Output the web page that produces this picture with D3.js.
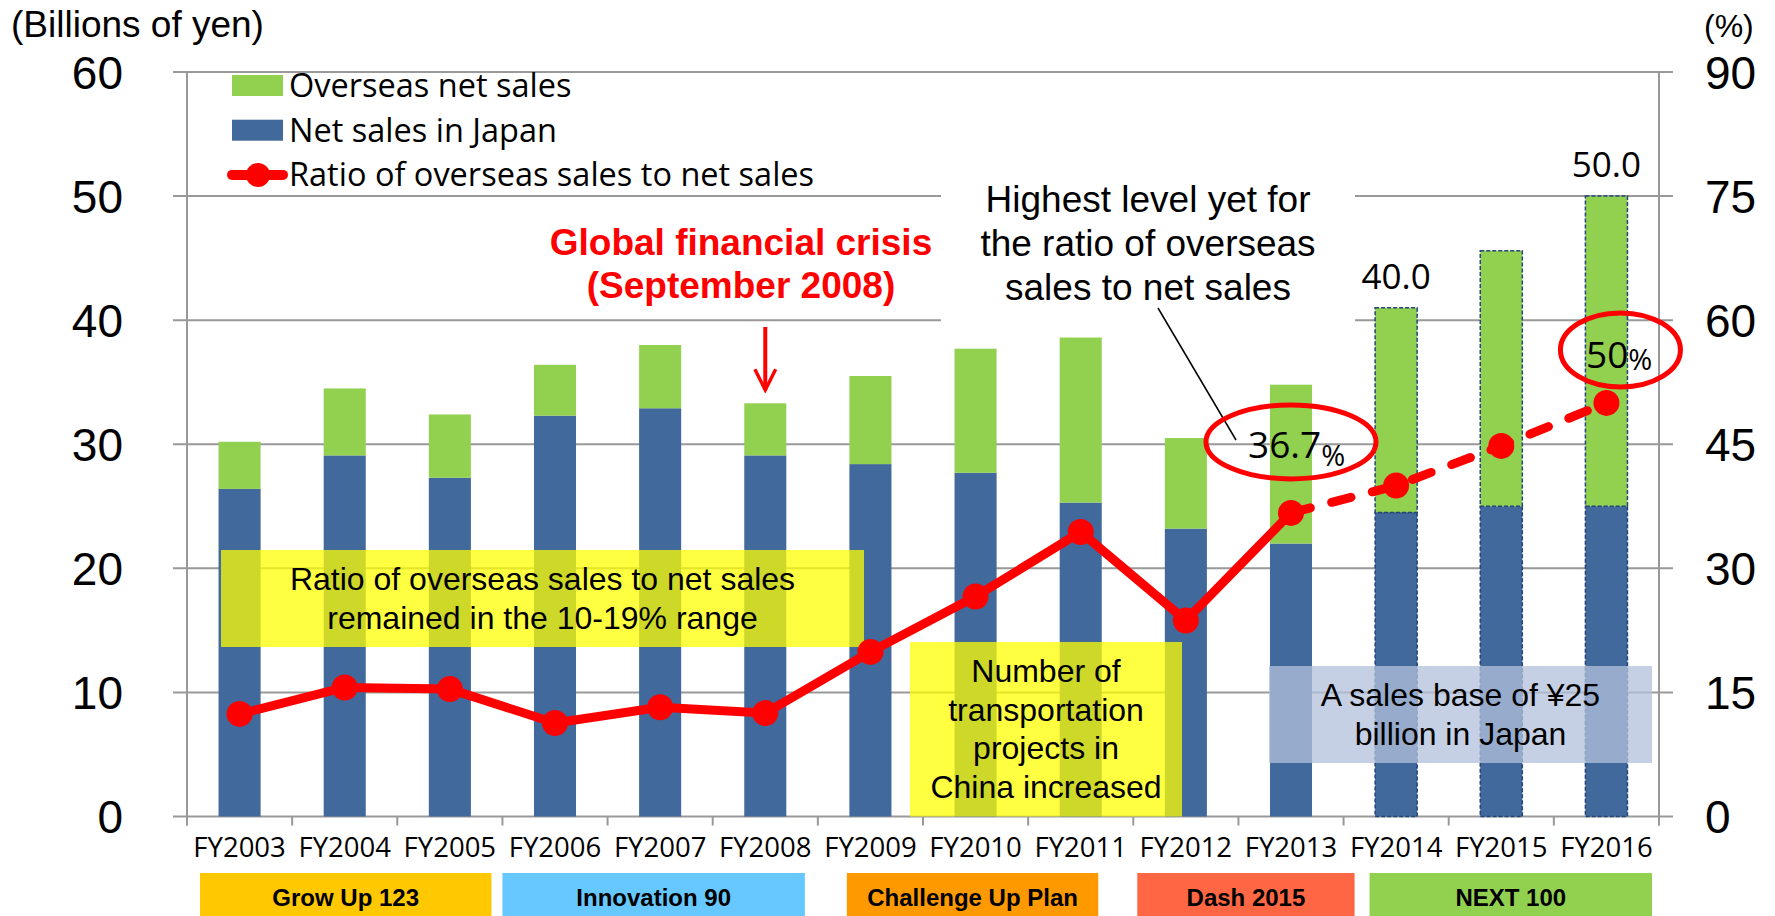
<!DOCTYPE html>
<html>
<head>
<meta charset="utf-8">
<script src="https://cdn.jsdelivr.net/npm/d3@7"></script>
<style>
  body { margin: 0; background: #fff; }
  svg { display: block; }
</style>
</head>
<body>
<div id="chart"></div>
<script>
// -------------------- DATA --------------------
const YEARS = ["FY2003", "FY2004", "FY2005", "FY2006", "FY2007", "FY2008", "FY2009",
               "FY2010", "FY2011", "FY2012", "FY2013", "FY2014", "FY2015", "FY2016"];
// billions of yen
const JAPAN_SALES    = [26.4, 29.1, 27.3, 32.3, 32.9, 29.1, 28.4, 27.7, 25.3, 23.2, 22.0, 24.5, 25.0, 25.0];
const OVERSEAS_SALES = [ 3.8,  5.4,  5.1,  4.1,  5.1,  4.2,  7.1, 10.0, 13.3,  7.3, 12.8, 16.5, 20.6, 25.0];
// percent
const OVERSEAS_RATIO = [12.4, 15.6, 15.4, 11.3, 13.2, 12.5, 19.9, 26.6, 34.4, 23.7, 36.7, 40.0, 44.8, 50.0];
const PLAN_YEARS = ["FY2014", "FY2015", "FY2016"];   // targets, dashed
const LAST_ACTUAL = "FY2013";
const BAR_LABEL_YEARS = ["FY2014", "FY2016"];
const BAR_LABEL_TEXTS = ["40.0", "50.0"];

const PLAN_NAMES  = ["Grow Up 123", "Innovation 90", "Challenge Up Plan", "Dash 2015", "NEXT 100"];
const PLAN_FIRST  = ["FY2003", "FY2006", "FY2009", "FY2012", "FY2014"];
const PLAN_LAST   = ["FY2005", "FY2008", "FY2011", "FY2013", "FY2016"];
const PLAN_COLORS = ["#ffc800", "#66c8ff", "#ff9900", "#ff6644", "#92d050"];

const LEFT_TICKS  = [0, 10, 20, 30, 40, 50, 60];
const RIGHT_TICKS = [0, 15, 30, 45, 60, 75, 90];

const LEGEND_LABELS = ["Overseas net sales", "Net sales in Japan", "Ratio of overseas sales to net sales"];

// -------------------- SETUP --------------------
const W = 1775, H = 916;
const plot = { left: 187, right: 1659, top: 72, bottom: 816.5 };
const ARIAL = "'Liberation Sans', Arial, sans-serif";
const SOFT = "'Open Sans', 'Noto Sans', sans-serif";
const BLUE = "#41699b", GREEN = "#92d050", RED = "#ff0000", GRID = "#999";
// left/right inset (px) of each plan strip inside its fiscal-year span
const planInset = [[13, 11], [0, 13], [29, 35], [4, -11], [26, 7]];

const svg = d3.select("#chart").append("svg")
  .attr("width", W).attr("height", H)
  .attr("viewBox", `0 0 ${W} ${H}`);

const x = d3.scaleBand().domain(YEARS).range([plot.left, plot.right])
  .paddingInner(0.6).paddingOuter(0.3);
const xCell = d3.scaleBand().domain(YEARS).range([plot.left, plot.right]);
const y = d3.scaleLinear().domain([0, 60]).range([plot.bottom, plot.top]);
const yRatio = d3.scaleLinear().domain([0, 90]).range([plot.bottom, plot.top]);
const cx = yr => x(yr) + x.bandwidth() / 2;

// -------------------- GRID & AXES --------------------
svg.append("g").selectAll("line")
  .data(LEFT_TICKS)
  .join("line")
  .attr("x1", plot.left - 14).attr("x2", plot.right + 14)
  .attr("y1", d => y(d)).attr("y2", d => y(d))
  .attr("stroke", GRID).attr("stroke-width", 2);

[plot.left, plot.right].forEach(px => {
  svg.append("line")
    .attr("x1", px).attr("x2", px)
    .attr("y1", plot.top).attr("y2", plot.bottom + 9)
    .attr("stroke", GRID).attr("stroke-width", 2);
});

// tick marks between categories
svg.append("g").selectAll("line")
  .data(YEARS.concat(["end"]))
  .join("line")
  .attr("x1", d => d === "end" ? plot.right : xCell(d))
  .attr("x2", d => d === "end" ? plot.right : xCell(d))
  .attr("y1", plot.bottom).attr("y2", plot.bottom + 9)
  .attr("stroke", GRID).attr("stroke-width", 2);

svg.append("g").selectAll("text")
  .data(LEFT_TICKS)
  .join("text")
  .attr("x", 123).attr("y", d => y(d)).attr("dy", "0.36em")
  .attr("text-anchor", "end")
  .style("font-family", ARIAL).style("font-size", "46px")
  .text(d => d);

svg.append("g").selectAll("text")
  .data(RIGHT_TICKS)
  .join("text")
  .attr("x", 1705).attr("y", d => yRatio(d)).attr("dy", "0.36em")
  .style("font-family", ARIAL).style("font-size", "46px")
  .text(d => d);

svg.append("g")
  .attr("transform", `translate(0, ${plot.bottom})`)
  .call(d3.axisBottom(xCell).tickSize(0).tickPadding(21))
  .call(g => g.select(".domain").remove())
  .selectAll("text")
  .style("font-family", SOFT).style("font-size", "27.5px").attr("fill", "#000");

svg.append("text").attr("x", 11).attr("y", 37)
  .style("font-family", ARIAL).style("font-size", "37px")
  .text("(Billions of yen)");
svg.append("text").attr("x", 1704).attr("y", 37)
  .style("font-family", ARIAL).style("font-size", "32px")
  .text("(%)");

// white backing behind the callout text (cuts the gridlines)
svg.append("rect")
  .attr("x", 941).attr("y", 160).attr("width", 414).attr("height", 170)
  .attr("fill", "#fff");

// -------------------- BARS --------------------
const rows = YEARS.map((yr, i) => ({ year: yr, japan: JAPAN_SALES[i], overseas: OVERSEAS_SALES[i] }));
const stacked = d3.stack().keys(["japan", "overseas"])(rows);
const barColor = { japan: BLUE, overseas: GREEN };

svg.append("g").selectAll("g")
  .data(stacked)
  .join("g")
  .attr("fill", d => barColor[d.key])
  .selectAll("rect")
  .data(d => d)
  .join("rect")
  .attr("x", d => x(d.data.year))
  .attr("y", d => y(d[1]))
  .attr("width", x.bandwidth())
  .attr("height", d => y(d[0]) - y(d[1]))
  .attr("stroke", d => PLAN_YEARS.includes(d.data.year) ? "#23457a" : "none")
  .attr("stroke-width", 1.5)
  .attr("stroke-dasharray", "4 2");

svg.append("g").selectAll("text")
  .data(BAR_LABEL_YEARS)
  .join("text")
  .attr("x", d => cx(d))
  .attr("y", d => y(JAPAN_SALES[YEARS.indexOf(d)] + OVERSEAS_SALES[YEARS.indexOf(d)]) - 19)
  .attr("text-anchor", "middle")
  .style("font-family", SOFT).style("font-size", "35px")
  .text((d, i) => BAR_LABEL_TEXTS[i]);

// -------------------- NOTE BOXES --------------------
function noteBox(x0, y0, x1, y1, fill, opacity, lines, baseline, lineH, size) {
  svg.append("rect")
    .attr("x", x0).attr("y", y0).attr("width", x1 - x0).attr("height", y1 - y0)
    .attr("fill", fill).attr("fill-opacity", opacity);
  svg.append("text")
    .attr("text-anchor", "middle")
    .style("font-family", ARIAL).style("font-size", size + "px")
    .selectAll("tspan").data(lines).join("tspan")
    .attr("x", (x0 + x1) / 2)
    .attr("y", (d, i) => baseline + i * lineH)
    .text(d => d);
}

noteBox(221, 550, 864, 647, "#ffff00", 0.74,
  ["Ratio of overseas sales to net sales", "remained in the 10-19% range"], 590, 38.5, 32);
noteBox(910, 642, 1182, plot.bottom, "#ffff00", 0.74,
  ["Number of", "transportation", "projects in", "China increased"], 682, 38.5, 32);
noteBox(1269, 666, 1652, 763, "#b3c1dc", 0.76,
  ["A sales base of \u00a525", "billion in Japan"], 706, 38.5, 32);

// -------------------- RATIO LINE --------------------
const pts = YEARS.map((yr, i) => ({ year: yr, v: OVERSEAS_RATIO[i] }));
const cut = YEARS.indexOf(LAST_ACTUAL);
const line = d3.line().x(d => cx(d.year)).y(d => yRatio(d.v));

svg.append("path").datum(pts.slice(0, cut + 1))
  .attr("d", line).attr("fill", "none")
  .attr("stroke", RED).attr("stroke-width", 9)
  .attr("stroke-linejoin", "round");
svg.append("path").datum(pts.slice(cut))
  .attr("d", line).attr("fill", "none")
  .attr("stroke", RED).attr("stroke-width", 9)
  .attr("stroke-linecap", "round")
  .attr("stroke-dasharray", "20 22");
svg.append("g").selectAll("circle")
  .data(pts)
  .join("circle")
  .attr("cx", d => cx(d.year)).attr("cy", d => yRatio(d.v))
  .attr("r", 13).attr("fill", RED);

// -------------------- CALLOUTS --------------------
svg.append("text")
  .attr("text-anchor", "middle").attr("fill", RED)
  .style("font-family", ARIAL).style("font-size", "37px").style("font-weight", "bold")
  .selectAll("tspan").data(["Global financial crisis", "(September 2008)"]).join("tspan")
  .attr("x", 741).attr("y", (d, i) => 255 + i * 43).text(d => d);

svg.append("defs").append("marker")
  .attr("id", "arrowhead").attr("viewBox", "0 0 10 10")
  .attr("refX", 9).attr("refY", 5)
  .attr("markerWidth", 6.5).attr("markerHeight", 6.5)
  .attr("orient", "auto")
  .append("path").attr("d", "M1,1 L9,5 L1,9").attr("fill", "none")
  .attr("stroke", RED).attr("stroke-width", 1.3);
svg.append("line")
  .attr("x1", cx("FY2008")).attr("x2", cx("FY2008"))
  .attr("y1", 327).attr("y2", 390)
  .attr("stroke", RED).attr("stroke-width", 4)
  .attr("marker-end", "url(#arrowhead)");

svg.append("text")
  .attr("text-anchor", "middle")
  .style("font-family", ARIAL).style("font-size", "37px")
  .selectAll("tspan")
  .data(["Highest level yet for", "the ratio of overseas", "sales to net sales"]).join("tspan")
  .attr("x", 1148).attr("y", (d, i) => 212 + i * 44).text(d => d);

svg.append("line")
  .attr("x1", 1158).attr("y1", 308).attr("x2", 1236).attr("y2", 440)
  .attr("stroke", "#000").attr("stroke-width", 1.5);

function pctLabel(xPos, yPos, num, drop) {
  const t = svg.append("text").attr("x", xPos).attr("y", yPos)
    .style("font-family", SOFT).style("font-size", "37px");
  t.append("tspan").text(num);
  t.append("tspan").attr("dy", drop).style("font-size", "29px").text("%");
}
pctLabel(1248, 458, "36.7", 8);
pctLabel(1586, 368, "50", 2);

svg.append("ellipse")
  .attr("cx", cx("FY2013")).attr("cy", yRatio(36.7) - 71)
  .attr("rx", 85).attr("ry", 37)
  .attr("fill", "none").attr("stroke", RED).attr("stroke-width", 5);
svg.append("ellipse")
  .attr("cx", cx("FY2016") + 14).attr("cy", yRatio(50) - 53)
  .attr("rx", 60).attr("ry", 37)
  .attr("fill", "none").attr("stroke", RED).attr("stroke-width", 5);

// -------------------- LEGEND --------------------
const legend = svg.append("g");
LEGEND_LABELS.forEach((label, i) => {
  const ly = 85.5 + i * 44.7;
  if (i < 2) {
    legend.append("rect")
      .attr("x", 232).attr("y", ly - 10.5).attr("width", 51).attr("height", 21)
      .attr("fill", i === 0 ? GREEN : BLUE);
  } else {
    legend.append("line")
      .attr("x1", 232).attr("x2", 283).attr("y1", ly).attr("y2", ly)
      .attr("stroke", RED).attr("stroke-width", 10).attr("stroke-linecap", "round");
    legend.append("circle").attr("cx", 258).attr("cy", ly).attr("r", 12).attr("fill", RED);
  }
  legend.append("text")
    .attr("x", 289).attr("y", ly + 11.5)
    .style("font-family", SOFT).style("font-size", "32.5px")
    .text(label);
});

// -------------------- MID-TERM PLANS --------------------
const plans = PLAN_NAMES.map((name, i) => ({
  name, color: PLAN_COLORS[i],
  x0: xCell(PLAN_FIRST[i]) + planInset[i][0],
  x1: xCell(PLAN_LAST[i]) + xCell.bandwidth() - planInset[i][1]
}));
const planG = svg.append("g").selectAll("g").data(plans).join("g");
planG.append("rect")
  .attr("x", d => d.x0).attr("y", 873)
  .attr("width", d => d.x1 - d.x0).attr("height", H - 873)
  .attr("fill", d => d.color);
planG.append("text")
  .attr("x", d => (d.x0 + d.x1) / 2).attr("y", 906)
  .attr("text-anchor", "middle")
  .style("font-family", ARIAL).style("font-size", "24px").style("font-weight", "bold")
  .text(d => d.name);
</script>
</body>
</html>
